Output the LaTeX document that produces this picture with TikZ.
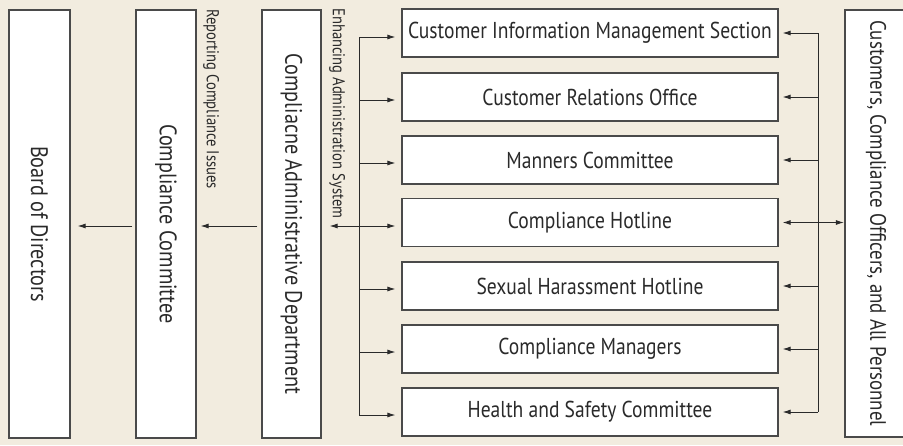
\documentclass[tikz,border=0pt]{standalone}
\usepackage{fontspec}
\setmainfont[FakeStretch=0.85]{PT Sans}
\usetikzlibrary{arrows.meta,calc}
\definecolor{bg}{HTML}{F2ECDF}
\definecolor{ln}{HTML}{2A2A2A}
\definecolor{bd}{HTML}{4A4A4A}
\begin{document}
\begin{tikzpicture}[x=1pt,y=-1pt,
  box/.style={draw=bd, line width=1.2pt, fill=white, inner sep=0pt, text=ln, font=\fontsize{23}{25}\selectfont},
  vbox/.style={box, rotate=-90, minimum width=428pt, font=\fontsize{23.8}{26}\selectfont},
  hbox/.style={box, minimum width=376pt, minimum height=48pt},
  lab/.style={rotate=-90, inner sep=0pt, text=ln, font=\fontsize{17.2}{19}\selectfont},
  conn/.style={draw=ln, line width=0.9pt},
  arr/.style={conn, -{Latex[length=8pt,width=5pt]}},
  arrb/.style={conn, {Latex[length=8pt,width=5pt]}-{Latex[length=8pt,width=5pt]}}]
\fill[bg] (0,0) rectangle (903,445);
\useasboundingbox (0,0) rectangle (903,445);
% big vertical boxes
\node[vbox, minimum height=61pt] (bod) at (39.5,224) {Board of Directors};
\node[vbox, minimum height=60pt] (cc) at (166,224) {Compliance Committee};
\node[vbox, minimum height=59pt] (cad) at (291.5,224) {Compliacne Administrative Department};
\node[vbox, minimum width=427pt, minimum height=62pt, font=\fontsize{22.3}{24}\selectfont] (cust) at (876,223.5) {Customers, Compliance Officers, and All Personnel};
% labels
\node[lab, anchor=south west] (rep) at (203,9) {Reporting Compliance Issues};
\node[lab, anchor=south west] (enh) at (329,8) {Enhancing Administration System};
% right-hand boxes
\node[hbox] (r1) at (590,33) {Customer Information Management Section};
\node[hbox] (r2) at (590,97) {Customer Relations Office};
\node[hbox] (r3) at (590,160) {Manners Committee};
\node[hbox] (r4) at (590,222.5) {Compliance Hotline};
\node[hbox] (r5) at (590,286) {Sexual Harassment Hotline};
\node[hbox] (r6) at (590,349) {Compliance Managers};
\node[hbox] (r7) at (590,412) {Health and Safety Committee};
% left trunk
\coordinate (l1) at (359,37);
\coordinate (l2) at (359,100);
\coordinate (l3) at (359,163);
\coordinate (l4) at (359,226);
\coordinate (l5) at (359,289);
\coordinate (l6) at (359,352);
\coordinate (l7) at (359,415);
\draw[conn] (l1) -- (l7);
\foreach \i in {1,2,3,5,6,7}{
  \draw[arr, shorten >=6pt] (l\i) -- (l\i -| r\i.west);
}
\draw[arrb, shorten <=8pt, shorten >=6pt] (cad.north |- l4) -- (l4 -| r4.west);
% right trunk
\coordinate (t1) at (818,33);
\coordinate (t7) at (818,412);
\draw[conn] (t1) -- (t7);
\foreach \i in {1,2,3,5,6,7}{
  \draw[arr, shorten >=4pt] (t1 |- r\i.east) -- (r\i.east);
}
\draw[arrb, shorten <=4pt, shorten >=0.5pt] (r4.east) -- (cust.south |- r4.east);
% arrows between big boxes
\draw[arr, shorten <=4pt, shorten >=4pt] (cad.south |- l4) -- (cc.north |- l4);
\draw[arr, shorten <=3pt, shorten >=7pt] (cc.south |- l4) -- (bod.north |- l4);
\end{tikzpicture}
\end{document}
